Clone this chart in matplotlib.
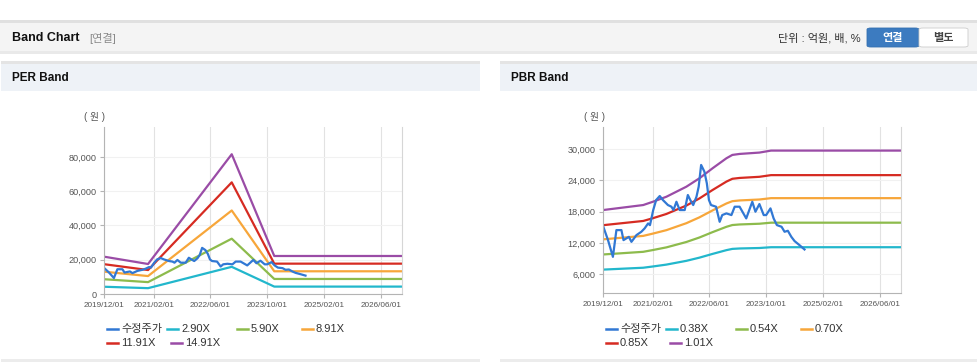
import matplotlib
matplotlib.use("Agg")
import matplotlib.pyplot as plt
import pandas as pd
from matplotlib.patches import Rectangle, FancyBboxPatch
from matplotlib.lines import Line2D

plt.rcParams['font.family'] = ['Liberation Sans', 'Noto Sans CJK KR', 'DejaVu Sans']

# ---- data ----
price_dates = ['2019-12-02', '2020-01-13', '2020-02-24', '2020-03-25', '2020-05-07', '2020-05-25',
               '2020-07-10', '2020-08-01', '2020-09-13', '2020-10-25', '2020-11-22', '2020-12-22',
               '2021-01-07', '2021-02-04', '2021-03-01', '2021-04-01', '2021-04-28', '2021-06-10',
               '2021-07-10', '2021-07-28', '2021-08-22', '2021-09-19', '2021-11-01', '2021-11-28',
               '2021-12-19', '2022-01-13', '2022-02-10', '2022-03-01', '2022-03-22', '2022-04-19',
               '2022-05-10', '2022-05-28', '2022-06-15', '2022-07-28', '2022-08-28', '2022-09-19',
               '2022-10-25', '2022-12-07', '2023-01-04', '2023-02-15', '2023-04-13', '2023-06-04',
               '2023-07-01', '2023-08-04', '2023-09-10', '2023-10-01', '2023-11-07', '2023-12-04',
               '2024-01-01', '2024-02-10', '2024-03-07', '2024-04-04', '2024-05-04', '2024-06-01',
               '2024-07-13', '2024-08-25']
price = [15210, 12530, 9330, 14450, 14450, 12530,
         13160, 12200, 13490, 14130, 14770, 15730,
         15400, 18290, 20210, 20980, 20210, 19250,
         18930, 18290, 19880, 18290, 18290, 21170,
         20210, 19250, 20840, 22760, 26930, 25650,
         23410, 20210, 19250, 18930, 16040, 17330,
         17650, 17330, 18930, 18930, 16690, 19880,
         17970, 19440, 17330, 17330, 18610, 16690,
         15410, 15090, 14130, 14320, 13160, 12340,
         11570, 10740]

per_dates = ['2019-12-01', '2020-12-13', '2022-12-01', '2023-12-01', '2026-12-01']
per_labels = ['2.90X', '5.90X', '8.91X', '11.91X', '14.91X']
per_290 = [4240, 3410, 15870, 4320, 4320]
per_590 = [8630, 6930, 32290, 8780, 8780]
per_891 = [13030, 10470, 48760, 13260, 13260]
per_1191 = [17410, 13990, 65180, 17720, 17720]
per_1491 = [21800, 17520, 81600, 22190, 22190]

pbr_dates = ['2019-12-01', '2020-11-10', '2021-02-01', '2021-05-28', '2021-11-15', '2022-03-07',
             '2022-06-28', '2022-10-25', '2022-12-15', '2023-02-15', '2023-08-04', '2023-11-12',
             '2026-12-01']
pbr_labels = ['0.38X', '0.54X', '0.70X', '0.85X', '1.01X']
pbr_038 = [6880, 7240, 7480, 7840, 8560, 9170, 9890, 10610, 10850, 10930, 11020, 11170, 11170]
pbr_054 = [9780, 10290, 10630, 11140, 12170, 13030, 14060, 15080, 15420, 15530, 15670, 15870, 15870]
pbr_070 = [12680, 13340, 13780, 14440, 15770, 16890, 18220, 19550, 19990, 20130, 20310, 20570, 20570]
pbr_085 = [15390, 16200, 16730, 17540, 19150, 20510, 22130, 23740, 24280, 24440, 24660, 24980, 24980]
pbr_101 = [18290, 19250, 19880, 20840, 22760, 24370, 26290, 28210, 28850, 29040, 29300, 29680, 29680]

xtick_dates = ['2019-12-01', '2021-02-01', '2022-06-01', '2023-10-01', '2025-02-01', '2026-06-01']
xtick_labels = [d.replace('-', '/') for d in xtick_dates]
per_yticks = [0, 20000, 40000, 60000, 80000]
pbr_yticks = [6000, 12000, 18000, 24000, 30000]

price_label = '수정주가'
price_color = '#3178d4'
band_colors = ['#22b7cc', '#8dbb4c', '#f7a63a', '#d62b22', '#9a4ca6']

W, H = 978, 362
fig = plt.figure(figsize=(W / 100, H / 100), dpi=100)


def fx(x):
    return x / W


def fy(y):
    return 1 - y / H


def rect(x0, y0, x1, y1, **kw):
    fig.add_artist(Rectangle((fx(x0), fy(y1)), (x1 - x0) / W, (y1 - y0) / H,
                             transform=fig.transFigure, lw=0, **kw))


def ftext(x, y, s, **kw):
    fig.text(fx(x), fy(y), s, va='center', **kw)


# top header
rect(0, 20, W, 23, color='#e0e0e0')
rect(0, 23, W, 51, color='#f4f4f4')
rect(0, 51, W, 54, color='#e9e9e9')
ftext(12, 38, 'Band Chart', fontsize=9, fontweight='bold', color='#111111')
ftext(89, 38, '[연결]', fontsize=8, color='#8a8a8a')
ftext(861, 38, '단위 : 억원, 배, %', fontsize=8, color='#333333', ha='right')
fig.add_artist(FancyBboxPatch((fx(867), fy(47)), 52 / W, 19 / H, boxstyle='round,pad=0,rounding_size=0.004',
                              transform=fig.transFigure, fc='#3c7bc0', ec='#3470b0', lw=0.6))
fig.add_artist(FancyBboxPatch((fx(919), fy(47)), 49 / W, 19 / H, boxstyle='round,pad=0,rounding_size=0.004',
                              transform=fig.transFigure, fc='white', ec='#cccccc', lw=0.6))
ftext(893, 38, '연결', fontsize=8, fontweight='bold', color='white', ha='center')
ftext(943, 38, '별도', fontsize=8, fontweight='bold', color='#444444', ha='center')

# panel headers
for x0, x1, title in [(1, 480, 'PER Band'), (500, W, 'PBR Band')]:
    rect(x0, 61, x1, 64, color='#e4e4e4')
    rect(x0, 64, x1, 91, color='#eef2f7')
    rect(x0, 359, x1, 362, color='#ececec')
    ftext(x0 + 11, 78, title, fontsize=8.5, fontweight='bold', color='#111111')


def draw_panel(left, top, bottom, dates, bands, labels, yticks, ylim):
    ax = fig.add_axes([fx(left), fy(bottom), 298 / W, (bottom - top) / H])
    bx = pd.to_datetime(dates)
    for vals, c in zip(bands, band_colors):
        ax.plot(bx, vals, color=c, lw=1.6)
    ax.plot(pd.to_datetime(price_dates), price, color=price_color, lw=1.6)
    ax.set_xlim(pd.Timestamp('2019-12-01'), pd.Timestamp('2026-12-01'))
    ax.set_ylim(*ylim)
    ax.set_xticks(pd.to_datetime(xtick_dates))
    ax.set_xticklabels(xtick_labels)
    ax.set_yticks(yticks)
    ax.set_yticklabels([f'{v:,}' for v in yticks])
    ax.grid(axis='x', color='#e2e2e2', lw=0.8)
    ax.grid(axis='y', color='#f1f1f1', lw=0.8)
    ax.set_axisbelow(True)
    ax.spines['top'].set_visible(False)
    ax.spines['right'].set_color('#d6d6d6')
    for s in ['left', 'bottom']:
        ax.spines[s].set_color('#b4b4b4')
    ax.tick_params(axis='y', labelsize=6.6, colors='#b4b4b4', labelcolor='#555555', length=3, width=0.8, pad=2.5)
    ax.tick_params(axis='x', labelsize=5.9, colors='#b4b4b4', labelcolor='#555555', length=3, width=0.8, pad=3)
    ftext(left - 9, top - 10, '( 원 )', fontsize=7, color='#555555', ha='center')

    # legend, laid out like the page
    names = [price_label] + labels
    cols = [price_color] + band_colors
    slots = [(3, 329), (63, 329), (133, 329), (198, 329), (3, 343), (67, 343)]
    for (dx, y), name, c in zip(slots, names, cols):
        x = left + dx
        fig.add_artist(Line2D([fx(x), fx(x + 11)], [fy(y), fy(y)], transform=fig.transFigure,
                              color=c, lw=1.8))
        ftext(x + 14, y, name, fontsize=8, color='#333333')
    return ax


draw_panel(104, 127, 294, per_dates, [per_290, per_590, per_891, per_1191, per_1491],
           per_labels, per_yticks, (0, 97500))
draw_panel(603, 127, 293, pbr_dates, [pbr_038, pbr_054, pbr_070, pbr_085, pbr_101],
           pbr_labels, pbr_yticks, (2400, 34200))

fig.savefig('out.png', dpi=100)
